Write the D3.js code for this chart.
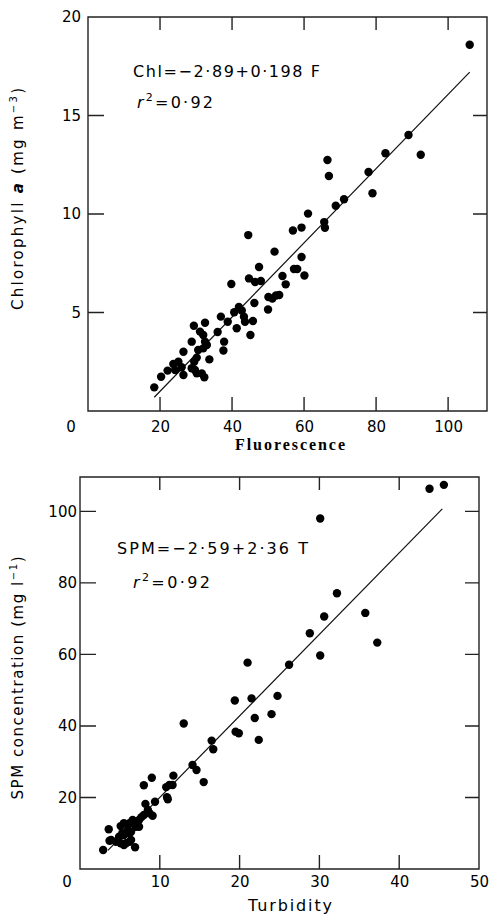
<!DOCTYPE html>
<html>
<head>
<meta charset="utf-8">
<script src="https://cdn.jsdelivr.net/npm/d3@7"></script>
<style>
	body { margin: 0; background: #fff; }
</style>
</head>
<body>
<svg id="chart" width="489" height="915" font-family="DejaVu Sans, sans-serif"></svg>
<script>

//############
//### data ###
//############

// upper panel: chlorophyll a against fluorescence
var fluorescence = [106.0, 89.0, 92.4, 82.6, 77.9, 79.0, 66.5, 66.9, 71.1, 68.8,
	61.1, 65.6, 65.8, 59.3, 56.9, 44.5, 51.8, 59.3, 47.5, 57.2,
	58.1, 54.0, 60.1, 44.7, 46.4, 48.0, 54.9, 39.8, 50.1, 51.2,
	52.2, 53.1, 46.2, 50.0, 41.9, 42.7, 40.6, 43.3, 43.6, 45.8,
	41.3, 45.1, 36.9, 38.8, 36.0, 37.8, 37.6, 32.5, 29.4, 31.1,
	32.0, 28.8, 32.5, 33.0, 32.0, 30.6, 26.5, 33.7, 30.2, 29.5,
	25.1, 23.7, 26.0, 24.2, 28.8, 29.7, 30.2, 31.6, 32.3, 26.5,
	22.1, 20.3, 18.4];
var chlorophyll = [18.59, 14.01, 13.01, 13.08, 12.13, 11.05, 12.74, 11.93, 10.75, 10.42,
	10.02, 9.59, 9.30, 9.31, 9.16, 8.93, 8.09, 7.82, 7.31, 7.21,
	7.21, 6.85, 6.88, 6.73, 6.55, 6.60, 6.43, 6.45, 5.79, 5.71,
	5.86, 5.89, 5.48, 5.15, 5.28, 5.10, 5.01, 4.79, 4.53, 4.57,
	4.20, 3.86, 4.79, 4.53, 4.01, 3.52, 3.07, 4.48, 4.33, 4.03,
	3.86, 3.52, 3.52, 3.35, 3.18, 3.10, 3.01, 2.62, 2.71, 2.50,
	2.50, 2.39, 2.22, 2.08, 2.17, 2.08, 1.91, 1.91, 1.71, 1.83,
	2.05, 1.74, 1.20];
// fitted line as drawn (end points)
var chlFitF = [18.4, 106];
var chlFitC = [0.7, 17.2];
var chlTicksX = [20, 40, 60, 80, 100];
var chlTicksY = [5, 10, 15, 20];

// lower panel: SPM against turbidity
var turbidity = [43.8, 45.6, 30.1, 32.2, 30.6, 35.75, 28.8, 37.25, 30.1, 26.2,
	21.0, 19.4, 21.5, 24.75, 21.9, 24.0, 13.0, 19.5, 19.9, 22.4,
	16.5, 16.7, 14.1, 14.6, 15.5, 11.7, 9.0, 8.0, 11.2, 11.6,
	10.8, 10.9, 11.0, 9.4, 8.2, 8.5, 8.7, 8.0, 9.1, 7.7,
	7.4, 7.2, 6.6, 6.2, 5.5, 7.4, 7.0, 6.0, 6.4, 5.1,
	5.3, 4.9, 6.2, 5.5, 6.4, 3.6, 3.9, 4.5, 5.1, 5.5,
	6.2, 6.9, 2.9, 3.7, 5.75];
var spm = [106.3, 107.4, 98.0, 77.1, 70.6, 71.6, 65.9, 63.3, 59.7, 57.1,
	57.7, 47.1, 47.7, 48.4, 42.2, 43.3, 40.7, 38.4, 37.95, 36.1,
	35.9, 33.5, 29.1, 27.7, 24.3, 26.1, 25.5, 23.4, 23.5, 23.5,
	22.9, 20.1, 19.5, 18.8, 18.2, 16.5, 15.6, 15.1, 14.9, 14.5,
	13.7, 13.2, 13.7, 12.8, 12.8, 11.8, 11.8, 10.9, 10.4, 12.0,
	10.0, 9.0, 10.0, 9.5, 8.1, 11.1, 8.1, 7.6, 7.2, 6.7,
	7.6, 6.1, 5.3, 7.9, 7.2];
var spmFitT = [3.5, 45.4];
var spmFitS = [5.2, 100.7];
var turbTicksX = [10, 20, 30, 40, 50];
var spmTicksY = [20, 40, 60, 80, 100];


//###############
//### drawing ###
//###############
var svg = d3.select("#chart");

svg.append("rect")
	.attr("width", 489)
	.attr("height", 915)
	.attr("fill", "#fff");

var drawPanel = function(p){

	var x = p.x, y = p.y;
	var xr = x.range(), yr = y.range();
	var g = svg.append("g");

	// frame plus inward ticks on all four sides, as one path
	var d = d3.path();
	d.moveTo(xr[0], yr[1]);
	d.lineTo(xr[1], yr[1]);
	d.lineTo(xr[1], yr[0]);
	d.lineTo(xr[0], yr[0]);
	d.closePath();
	p.xTicks.forEach(function(v){
		d.moveTo(x(v), yr[0]); d.lineTo(x(v), yr[0] - 14);
		d.moveTo(x(v), yr[1]); d.lineTo(x(v), yr[1] + 13);
	});
	p.yTicks.forEach(function(v){
		d.moveTo(xr[0], y(v)); d.lineTo(xr[0] + 16, y(v));
		d.moveTo(xr[1], y(v)); d.lineTo(xr[1] - 14, y(v));
	});
	g.append("path")
		.attr("class", "frame")
		.attr("d", d.toString())
		.attr("fill", "none")
		.attr("stroke", "#222")
		.attr("stroke-width", 1.4);

	var styleAxis = function(a){
		a.select(".domain").remove();
		a.selectAll(".tick line").remove();
		a.attr("font-family", null).attr("font-size", 15);
		a.selectAll(".tick text").attr("fill", "#000");
	};

	// tick labels
	g.append("g")
		.attr("transform", "translate(0," + yr[0] + ")")
		.call(d3.axisBottom(x).tickValues(p.xTicks).tickSize(0).tickPadding(p.xPad))
		.call(styleAxis);
	g.append("g")
		.attr("transform", "translate(" + xr[0] + ",0)")
		.call(d3.axisLeft(y).tickValues(p.yTicks).tickSize(0).tickPadding(p.yPad))
		.call(styleAxis);

	// shared zero in the corner
	g.append("text")
		.attr("x", xr[0] - p.zeroShift)
		.attr("y", yr[0] + p.xPad)
		.attr("dy", "0.71em")
		.attr("text-anchor", "middle")
		.attr("font-size", 15)
		.attr("fill", "#000")
		.text("0");

	// fitted line
	var fit = d3.zip(p.fitX, p.fitY);
	g.append("path")
		.datum(fit)
		.attr("fill", "none")
		.attr("stroke", "#111")
		.attr("stroke-width", 1.2)
		.attr("d", d3.line().x(function(d){ return x(d[0]); }).y(function(d){ return y(d[1]); }));

	// points
	g.selectAll("circle.pt")
		.data(d3.zip(p.xs, p.ys))
		.enter().append("circle")
			.attr("class", "pt")
			.attr("cx", function(d){ return x(d[0]); })
			.attr("cy", function(d){ return y(d[1]); })
			.attr("r", 4.2)
			.attr("fill", "#000");

	return g;
};

var addEquation = function(g, x, y, width, parts){
	var t = g.append("text")
		.attr("x", x)
		.attr("y", y)
		.attr("font-size", 16)
		.attr("fill", "#000")
		.attr("textLength", width)
		.attr("lengthAdjust", "spacing");
	parts.forEach(function(s){
		var ts = t.append("tspan").text(s.text);
		if(s.italic) ts.attr("font-style", "italic");
		if(s.sup) ts.attr("font-size", 11).attr("dy", -7);
		if(s.down) ts.attr("dy", 7);
	});
	return t;
};

var addRotatedLabel = function(g, cx, cy, width, parts){
	var t = g.append("text")
		.attr("transform", "translate(" + cx + "," + cy + ") rotate(-90)")
		.attr("text-anchor", "middle")
		.attr("font-size", 15)
		.attr("fill", "#000")
		.attr("textLength", width)
		.attr("lengthAdjust", "spacing");
	parts.forEach(function(s){
		var ts = t.append("tspan").text(s.text);
		if(s.italic) ts.attr("font-style", "italic").attr("font-weight", "bold");
		if(s.sup) ts.attr("font-size", 10).attr("dy", -6);
		if(s.down) ts.attr("dy", 6);
	});
	return t;
};


// ### upper panel ###
var xChl = d3.scaleLinear().domain([0, 110.8]).range([88, 487]);
var yChl = d3.scaleLinear().domain([0, 20]).range([411, 17]);

var chlPanel = drawPanel({
	x: xChl, y: yChl,
	xTicks: chlTicksX, yTicks: chlTicksY,
	xPad: 10, yPad: 7, zeroShift: 17,
	fitX: chlFitF, fitY: chlFitC,
	xs: fluorescence, ys: chlorophyll
});

addEquation(chlPanel, 133, 77, 187, [{text: "Chl=\u22122\u00b789+0\u00b7198 F"}]);
addEquation(chlPanel, 137, 108, 76, [
	{text: "r", italic: true},
	{text: "2", sup: true},
	{text: "=0\u00b792", down: true}
]);

chlPanel.append("text")
	.attr("x", 290)
	.attr("y", 450)
	.attr("text-anchor", "middle")
	.attr("font-family", "Liberation Serif, serif")
	.attr("font-weight", "bold")
	.attr("font-size", 16)
	.attr("fill", "#000")
	.attr("textLength", 110)
	.attr("lengthAdjust", "spacing")
	.text("Fluorescence");

addRotatedLabel(chlPanel, 23, 199, 222, [
	{text: "Chlorophyll "},
	{text: "a", italic: true},
	{text: " (mg m"},
	{text: "\u22123", sup: true},
	{text: ")", down: true}
]);


// ### lower panel ###
var xTurb = d3.scaleLinear().domain([0, 50]).range([80, 479]);
var ySpm = d3.scaleLinear().domain([0, 109.6]).range([869, 477]);

var spmPanel = drawPanel({
	x: xTurb, y: ySpm,
	xTicks: turbTicksX, yTicks: spmTicksY,
	xPad: 7, yPad: 3, zeroShift: 13,
	fitX: spmFitT, fitY: spmFitS,
	xs: turbidity, ys: spm
});

addEquation(spmPanel, 117, 554, 191, [{text: "SPM=\u22122\u00b759+2\u00b736 T"}]);
addEquation(spmPanel, 133, 588, 77, [
	{text: "r", italic: true},
	{text: "2", sup: true},
	{text: "=0\u00b792", down: true}
]);

spmPanel.append("text")
	.attr("x", 290)
	.attr("y", 911)
	.attr("text-anchor", "middle")
	.attr("font-size", 16)
	.attr("fill", "#000")
	.attr("textLength", 84)
	.attr("lengthAdjust", "spacing")
	.text("Turbidity");

addRotatedLabel(spmPanel, 23, 678, 243, [
	{text: "SPM concentration (mg l"},
	{text: "\u22121", sup: true},
	{text: ")", down: true}
]);

</script>
</body>
</html>
